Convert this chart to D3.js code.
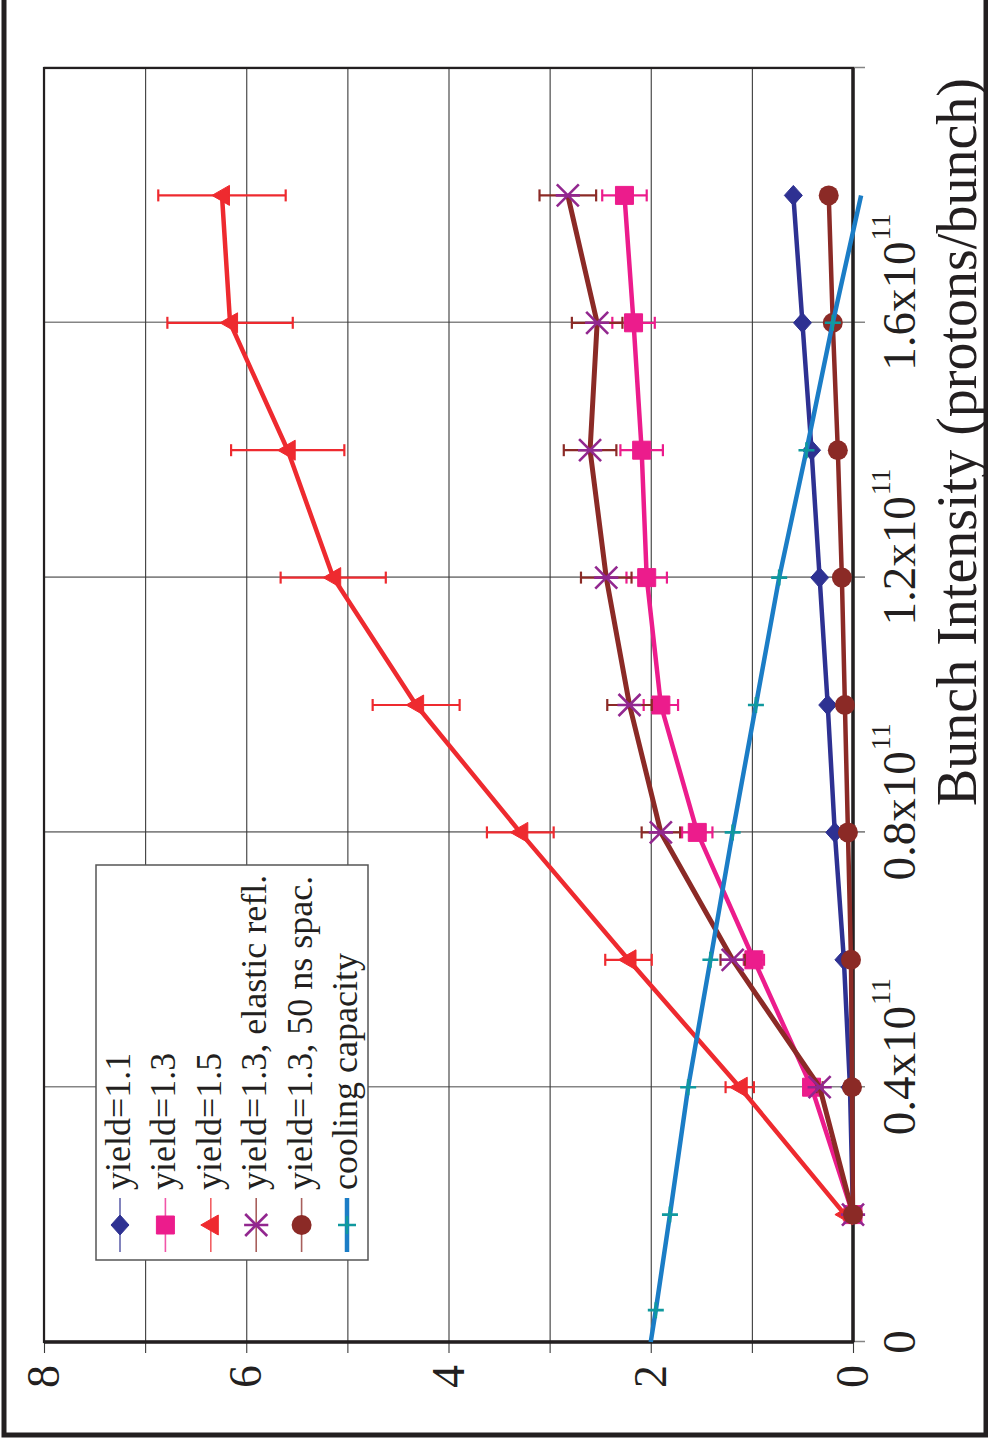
<!DOCTYPE html>
<html>
<head>
<meta charset="utf-8">
<script src="https://cdn.jsdelivr.net/npm/d3@7"></script>
<style>
  body { margin: 0; background: #fff; }
  text { font-family: "Liberation Serif", "Times New Roman", serif; fill: #231f20; }
</style>
</head>
<body>
<div id="chart"></div>
<script>
// bunch intensity in units of 1e11 protons/bunch
var intensity = [0.2, 0.4, 0.6, 0.8, 1.0, 1.2, 1.4, 1.6, 1.8];

var yield11 = [0, 0.03, 0.09, 0.18, 0.25, 0.33, 0.41, 0.50, 0.59];
var yield13 = [0, 0.41, 0.98, 1.54, 1.90, 2.04, 2.09, 2.17, 2.26];
var yield13Err = [0, 0.04, 0.10, 0.15, 0.17, 0.20, 0.21, 0.21, 0.22];
var yield15 = [0.08, 1.12, 2.22, 3.29, 4.32, 5.14, 5.59, 6.16, 6.24];
var yield15Err = [0.01, 0.14, 0.23, 0.33, 0.43, 0.52, 0.56, 0.62, 0.63];
var elastic = [0, 0.33, 1.19, 1.90, 2.21, 2.44, 2.60, 2.53, 2.82];
var elasticErr = [0, 0.03, 0.12, 0.19, 0.22, 0.25, 0.26, 0.25, 0.28];
var spac50 = [0, 0.01, 0.02, 0.05, 0.08, 0.11, 0.15, 0.20, 0.24];

var coolI = [0, 0.05, 0.2, 0.4, 0.6, 0.8, 1.0, 1.2, 1.4, 1.6, 1.8];
var coolH = [2.0, 1.95, 1.81, 1.63, 1.41, 1.19, 0.96, 0.73, 0.46, 0.20, -0.08];

var xTicks = [0, 0.4, 0.8, 1.2, 1.6, 2.0];
var xTickLabels = ["0", "0.4x10", "0.8x10", "1.2x10", "1.6x10", ""];
var yTicks = [0, 1, 2, 3, 4, 5, 6, 7, 8];

var legendNames = ["yield=1.1", "yield=1.3", "yield=1.5", "yield=1.3, elastic refl.",
                   "yield=1.3, 50 ns spac.", "cooling capacity"];

var W = 988, H = 1452;

var svg = d3.select("#chart").append("svg")
    .attr("width", W)
    .attr("height", H);

svg.append("rect").attr("width", W).attr("height", H).attr("fill", "#fff");

// whole chart is drawn upright and then turned a quarter turn
var g = svg.append("g")
    .attr("transform", "translate(0," + H + ") rotate(-90)");

var xScale = d3.scaleLinear().domain([0, 2]).range([110, 1384]),
    yScale = d3.scaleLinear().domain([0, 8]).range([853, 44]);

// x axis: ticks + grey grid
var xAxis = g.append("g")
    .attr("transform", "translate(0,853)")
    .call(d3.axisBottom(xScale).tickValues(xTicks).tickSize(12).tickFormat(""));
xAxis.select(".domain").remove();
xAxis.selectAll(".tick line")
    .attr("y1", -809)
    .attr("stroke", "#858585")
    .attr("stroke-width", 1.6);

// y axis: ticks + dark grid
var yAxis = g.append("g")
    .attr("transform", "translate(110,0)")
    .call(d3.axisLeft(yScale).tickValues(yTicks).tickSize(11).tickPadding(12)
      .tickFormat(function(d){ return d % 2 ? "" : d; }));
yAxis.select(".domain").remove();
yAxis.selectAll(".tick line")
    .attr("x1", 1274)
    .attr("stroke", "#3a3a3a")
    .attr("stroke-width", 1.1);
yAxis.selectAll(".tick text")
    .attr("font-size", 46)
    .attr("font-family", "Liberation Serif, Times New Roman, serif")
    .attr("fill", "#231f20");

// x tick labels with superscript
xTicks.forEach(function(t, i){
  if (!xTickLabels[i]) return;
  var lab = g.append("text")
      .attr("x", t > 0 ? xScale(t) - 48 : xScale(t))
      .attr("y", 915)
      .attr("text-anchor", t > 0 ? "start" : "middle")
      .attr("font-size", 47)
      .text(xTickLabels[i]);
  if (t > 0) {
    var len = lab.node().getComputedTextLength();
    g.append("text")
      .attr("x", xScale(t) - 48 + len + 1)
      .attr("y", 890)
      .attr("font-size", 28)
      .text("11");
  }
});

// plot frame
g.append("rect")
    .attr("x", 110).attr("y", 44)
    .attr("width", 1274).attr("height", 809)
    .attr("fill", "none")
    .attr("stroke", "#231f20")
    .attr("stroke-width", 2.2);
g.append("line").attr("x1", 110).attr("x2", 1384).attr("y1", 853).attr("y2", 853)
    .attr("stroke", "#231f20").attr("stroke-width", 3.5);
g.append("line").attr("x1", 110).attr("x2", 110).attr("y1", 44).attr("y2", 853)
    .attr("stroke", "#231f20").attr("stroke-width", 3.5);

// axis title
g.append("text")
    .attr("x", 646)
    .attr("y", 976)
    .attr("font-size", 56)
    .text("Bunch Intensity (protons/bunch)");

// markers
function diamond(s){ return "M0," + (-s) + "L" + (s+1) + ",0L0," + s + "L" + (-s-1) + ",0Z"; }
function square(s){ return "M" + (-s) + "," + (-s) + "h" + 2*s + "v" + 2*s + "h" + (-2*s) + "Z"; }
function triangle(s){ return "M0," + (-s) + "L" + s + "," + (s*0.75) + "L" + (-s) + "," + (s*0.75) + "Z"; }
function star(s){ return "M" + (-s) + "," + (-s) + "L" + s + "," + s + "M" + s + "," + (-s) + "L" + (-s) + "," + s + "M0," + (-s*1.1) + "V" + (s*1.1); }
function plus(s){ return "M" + (-s) + ",0H" + s + "M0," + (-s) + "V" + s; }

var series = [
  { vals: yield11, err: null, line: "#2e3192", mark: "#2e3192", w: 4.5, shape: diamond, size: 9, fill: true },
  { vals: yield13, err: yield13Err, line: "#ec1c8c", mark: "#ec1c8c", w: 4.5, shape: square, size: 9, fill: true },
  { vals: yield15, err: yield15Err, line: "#ee2a2f", mark: "#ee2a2f", w: 4.5, shape: triangle, size: 10, fill: true },
  { vals: elastic, err: elasticErr, line: "#8b2a26", mark: "#92278f", w: 5, shape: star, size: 11, fill: false },
  { vals: spac50, err: null, line: "#8b2a26", mark: "#8b2a26", w: 4.5, shape: null, size: 10, fill: true }
];

var line = d3.line()
    .x(function(d){ return xScale(d[0]); })
    .y(function(d){ return yScale(d[1]); });

series.forEach(function(s){
  var pts = intensity.map(function(x, i){ return [x, s.vals[i]]; });
  g.append("path")
      .datum(pts)
      .attr("d", line)
      .attr("fill", "none")
      .attr("stroke", s.line)
      .attr("stroke-width", s.w)
      .attr("stroke-linejoin", "round");

  if (s.err) {
    var eb = g.selectAll(null)
        .data(pts.map(function(p, i){ return [p[0], p[1], s.err[i]]; }).filter(function(d){ return d[2] > 0; }))
        .enter().append("g")
        .attr("stroke", s.line)
        .attr("stroke-width", 2.2);
    eb.append("line")
        .attr("x1", function(d){ return xScale(d[0]); })
        .attr("x2", function(d){ return xScale(d[0]); })
        .attr("y1", function(d){ return yScale(d[1] - d[2]); })
        .attr("y2", function(d){ return yScale(d[1] + d[2]); });
    eb.append("line")
        .attr("x1", function(d){ return xScale(d[0]) - 6; })
        .attr("x2", function(d){ return xScale(d[0]) + 6; })
        .attr("y1", function(d){ return yScale(d[1] - d[2]); })
        .attr("y2", function(d){ return yScale(d[1] - d[2]); });
    eb.append("line")
        .attr("x1", function(d){ return xScale(d[0]) - 6; })
        .attr("x2", function(d){ return xScale(d[0]) + 6; })
        .attr("y1", function(d){ return yScale(d[1] + d[2]); })
        .attr("y2", function(d){ return yScale(d[1] + d[2]); });
  }

  var mk = g.selectAll(null).data(pts).enter();
  if (s.shape) {
    mk.append("path")
      .attr("transform", function(d){ return "translate(" + xScale(d[0]) + "," + yScale(d[1]) + ")"; })
      .attr("d", s.shape(s.size))
      .attr("fill", s.fill ? s.mark : "none")
      .attr("stroke", s.mark)
      .attr("stroke-width", s.fill ? 1 : 2.6);
  } else {
    mk.append("circle")
      .attr("cx", function(d){ return xScale(d[0]); })
      .attr("cy", function(d){ return yScale(d[1]); })
      .attr("r", s.size)
      .attr("fill", s.mark);
  }
});

// cooling capacity
var coolPts = coolI.map(function(x, i){ return [x, coolH[i]]; });
g.append("path")
    .datum(coolPts)
    .attr("d", line)
    .attr("fill", "none")
    .attr("stroke", "#1b7dc6")
    .attr("stroke-width", 4.5);
g.selectAll(null)
    .data(coolPts.slice(1, coolPts.length - 1))
    .enter().append("path")
    .attr("transform", function(d){ return "translate(" + xScale(d[0]) + "," + yScale(d[1]) + ")"; })
    .attr("d", plus(8))
    .attr("stroke", "#10999e")
    .attr("stroke-width", 2.6);

// legend
var leg = g.append("g");
leg.append("rect")
    .attr("x", 192).attr("y", 96)
    .attr("width", 395).attr("height", 272)
    .attr("fill", "#fff")
    .attr("stroke", "#555")
    .attr("stroke-width", 1.5);

var legStyle = series.concat([{ line: "#1b7dc6", mark: "#10999e", w: 4.5, shape: plus, size: 9, fill: false, cool: true }]);
legStyle.forEach(function(s, i){
  var cy = 120 + i * 45.4;
  leg.append("line")
      .attr("x1", 200).attr("x2", 254)
      .attr("y1", cy).attr("y2", cy)
      .attr("stroke", s.line)
      .attr("stroke-opacity", s.cool ? 1 : 0.75)
      .attr("stroke-width", s.cool ? 4.5 : 1.6);
  if (s.shape) {
    leg.append("path")
      .attr("transform", "translate(227," + cy + ")")
      .attr("d", s.shape(s.size))
      .attr("fill", s.fill ? s.mark : "none")
      .attr("stroke", s.mark)
      .attr("stroke-width", s.fill ? 1 : 2.6);
  } else {
    leg.append("circle").attr("cx", 227).attr("cy", cy).attr("r", s.size).attr("fill", s.mark);
  }
  leg.append("text")
      .attr("x", 262)
      .attr("y", cy + 10)
      .attr("font-size", 36)
      .text(legendNames[i]);
});

// outer frame
svg.append("rect")
    .attr("x", 4).attr("y", -10)
    .attr("width", 982).attr("height", 1445)
    .attr("fill", "none")
    .attr("stroke", "#231f20")
    .attr("stroke-width", 5);
</script>
</body>
</html>
